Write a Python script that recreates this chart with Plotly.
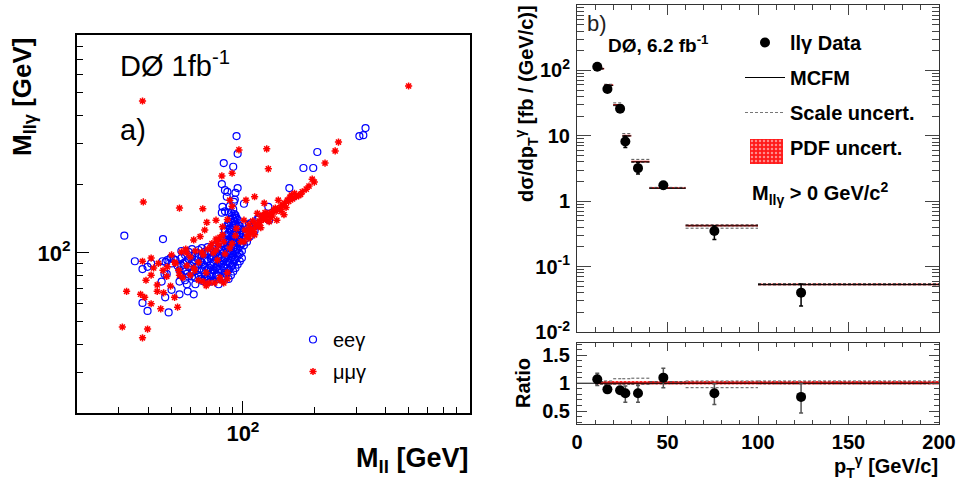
import plotly.graph_objects as go

FONT = "Liberation Sans"

# ---------------- Panel a: M_ll vs M_llgamma (GeV) ----------------
ee_points = [
    (31.6, 119), (94, 324), (95, 271), (83, 247), (91, 238), (81.5, 200), (84, 188),
    (86, 185), (93, 183), (95, 192), (85.5, 176), (91.6, 167), (92.4, 171), (101, 164),
    (82, 159), (84, 152), (81.5, 150), (128, 159), (157, 192), (163, 176), (180, 235),
    (198, 235), (206, 276), (310, 324), (322, 327), (329, 351), (46, 115), (35, 92),
    (37.7, 85), (39.6, 87), (41, 90), (45.8, 92), (47.2, 91.4), (49.5, 95), (45.4, 75),
    (47, 64), (48.6, 55), (37.7, 60.5), (39.6, 55.8), (50, 69), (54, 66), (58.5, 68),
    (62, 66), (79, 73), (58, 73), (46.7, 81), (47.7, 81), (54, 75), (57, 76), (63, 73),
    (67.6, 75.5), (70.4, 77), (73, 75),
    (52, 93), (53, 88), (56, 90), (58, 92), (60, 88), (62, 83), (64, 96), (66, 92),
    (68, 89), (70, 84), (72, 86), (72, 101), (74, 81), (74, 96), (76, 84), (76, 99),
    (78, 87), (78, 80), (80, 90), (80, 102), (82, 79), (82, 93), (84, 95), (84, 82),
    (86, 86), (86, 108), (88, 99), (88, 90), (88, 112), (90, 96), (90, 118), (90, 88),
    (92, 93), (92, 106), (92, 116), (94, 103), (94, 112), (94, 121), (96, 100), (96, 115),
    (98, 110), (100, 120), (86, 120), (88, 128), (89, 140), (87, 135), (90, 145), (85, 114),
    (84, 125), (86, 98), (54, 84), (58, 81), (61, 79), (64, 84), (66, 77), (69, 79),
    (71, 78), (73, 84), (102, 115), (103, 122), (105, 128), (108, 135), (110, 130),
    (115, 140), (107, 118), (112, 125), (106, 133), (117, 142), (129, 139), (101, 108),
    (104, 112), (91, 132), (89, 150), (93, 143), (86, 132), (92, 138), (51, 94), (50, 90),
    (48, 93), (87, 150), (91, 155), (88, 160), (92, 148), (94, 142), (96, 132), (97, 128),
    (55, 80), (55, 88), (55, 95), (55, 102), (57, 83), (57, 91), (57, 98),
    (59, 79), (59, 87), (59, 94), (59, 101), (61, 82), (61, 90), (61, 97), (61, 104),
    (63, 78), (63, 86), (63, 93), (63, 100), (65, 80), (65, 89), (65, 96), (65, 103),
    (67, 77), (67, 84), (67, 91), (67, 98), (67, 105), (69, 81), (69, 87), (69, 93), (69, 101),
    (71, 76), (71, 85), (71, 92), (71, 99), (71, 106), (73, 79), (73, 88), (73, 95), (73, 102),
    (75, 76), (75, 84), (75, 91), (75, 97), (75, 104), (77, 80), (77, 87), (77, 94), (77, 101),
    (77, 108), (79, 77), (79, 85), (79, 91), (79, 98), (79, 106), (81, 82), (81, 89), (81, 95),
    (81, 103), (81, 110), (83, 78), (83, 86), (83, 92), (83, 100), (83, 107), (83, 115),
    (85, 81), (85, 89), (85, 96), (85, 104), (85, 111), (85, 119), (87, 77), (87, 84),
    (87, 91), (87, 99), (87, 106), (87, 113), (87, 122), (87, 131), (89, 80), (89, 87),
    (89, 95), (89, 102), (89, 109), (89, 117), (89, 126), (89, 136), (91, 83), (91, 90),
    (91, 98), (91, 105), (91, 112), (91, 120), (91, 129), (91, 142), (93, 86), (93, 94),
    (93, 101), (93, 108), (93, 116), (93, 124), (93, 134), (93, 146), (95, 89), (95, 97),
    (95, 104), (95, 111), (95, 119), (95, 128), (95, 139), (97, 92), (97, 99), (97, 107),
    (97, 114), (97, 122), (97, 131), (99, 95), (99, 102), (99, 110), (99, 117), (99, 126),
]

mm_points = [
    (500, 536), (37.7, 461), (126, 285), (96.2, 282), (128, 233), (81.5, 217), (90, 223),
    (253, 305), (245, 279), (222, 247), (196, 210), (200, 204), (38, 167), (54, 157),
    (67.7, 156), (70.4, 136), (77, 139), (112, 176), (123, 165), (103, 170), (141, 170),
    (135, 154), (146, 162), (154, 170), (160, 179), (149, 147), (139, 139), (129, 137),
    (119, 129), (111, 124), (106, 116), (120, 144), (129, 149), (137, 157), (101, 139),
    (106, 133), (115, 149), (32.3, 68), (37, 66), (38.5, 64), (41, 60), (45, 57), (53, 58),
    (43.5, 68), (31, 47.5), (39.6, 46.5), (37.7, 42.6), (37.7, 92), (41, 95), (39, 76),
    (41, 80), (43.5, 72.5), (46.3, 67), (47.7, 79), (49.5, 71.7), (51.5, 64), (55.7, 78),
    (60, 80), (62.6, 84), (65, 91), (58, 88), (53.6, 84), (51.5, 91), (55, 101), (57.4, 104),
    (62, 114), (73, 106), (80, 117), (77, 115), (69, 126), (82, 130), (66, 118),
    (62, 86), (70, 82), (78, 93), (86, 82), (88, 105), (94, 128), (84, 99), (80, 78),
    (68, 98), (60, 96), (52, 90), (54, 80), (98, 112), (104, 118), (108, 122), (114, 130),
    (118, 136), (122, 140), (126, 145), (132, 150), (138, 152), (144, 158), (150, 165),
    (156, 168), (162, 172), (168, 176), (175, 180), (68, 75), (72, 74), (76, 74), (80, 76),
    (90, 110), (102, 126), (110, 138), (116, 132), (124, 150), (131, 143), (145, 152),
    (58, 100), (63, 102), (71, 104), (75, 100), (79, 108), (101, 112), (105, 120),
    (109, 127), (113, 134), (117, 138), (121, 146), (125, 140), (133, 145), (140, 156),
    (147, 160), (152, 158), (158, 175), (165, 182), (172, 178), (178, 185), (185, 190),
    (190, 196), (106, 126), (112, 120), (93, 119), (83, 112), (77, 103), (67, 101),
    (50, 98), (48, 87), (46, 84), (44, 90), (42, 86), (74, 110), (78, 112), (82, 120),
    (86, 140), (90, 160), (88, 170), (65, 76), (70, 72), (83, 74), (86, 77),
]

ee_mll = [p[0] for p in ee_points]
ee_mllg = [p[1] for p in ee_points]
mm_mll = [p[0] for p in mm_points]
mm_mllg = [p[1] for p in mm_points]

# ---------------- Panel b: dsigma/dpT ----------------
bin_lo = [10, 15, 20, 25, 30, 40, 60, 100]
bin_hi = [15, 20, 25, 30, 40, 60, 100, 200]
pt_x = [11.2, 16.8, 23.8, 26.7, 33.7, 47.7, 75.9, 123.8]
data_xsec = [114, 52, 26, 8.2, 3.2, 1.75, 0.35, 0.040]
data_err_up = [8, 4, 2.5, 1.6, 0.7, 0.2, 0.07, 0.014]
data_err_dn = [8, 4, 2.5, 1.6, 0.6, 0.2, 0.09, 0.015]
mcfm = [106, 59, 29.5, 10.0, 4.0, 1.58, 0.42, 0.053]
scale_up_r = [1.03, 1.04, 1.08, 1.08, 1.09, 1.03, 1.04, 1.04]
scale_dn_r = [0.98, 0.98, 0.98, 0.98, 0.98, 0.99, 0.92, 0.99]
pdf_up_r = [1.04, 1.04, 1.04, 1.04, 1.04, 1.04, 1.04, 1.04]
pdf_dn_r = [0.975, 0.975, 0.975, 0.975, 0.975, 0.975, 0.975, 0.975]
ratio = [1.07, 0.89, 0.875, 0.82, 0.82, 1.10, 0.82, 0.755]
ratio_err_up = [0.11, 0.04, 0.05, 0.13, 0.14, 0.17, 0.17, 0.24]
ratio_err_dn = [0.11, 0.04, 0.05, 0.16, 0.16, 0.18, 0.20, 0.29]


def segs(vals):
    xs, ys = [], []
    for lo, hi, v in zip(bin_lo, bin_hi, vals):
        xs += [lo, hi, None]
        ys += [v, v, None]
    return xs, ys


def boxes(lo_vals, hi_vals):
    xs, ys = [], []
    for lo, hi, a, b in zip(bin_lo, bin_hi, lo_vals, hi_vals):
        xs += [lo, hi, hi, lo, lo, None]
        ys += [a, a, b, b, a, None]
    return xs, ys


fig = go.Figure()

fig.add_trace(go.Scatter(
    x=ee_mll, y=ee_mllg, mode="markers", name="eeγ", xaxis="x", yaxis="y",
    marker=dict(symbol="circle-open", size=7, color="#0000ff", line=dict(width=1.2, color="#0000ff")),
    legend="legend", legendgroup="ee"))
fig.add_trace(go.Scatter(
    x=mm_mll, y=mm_mllg, mode="markers", name="μμγ", xaxis="x", yaxis="y",
    marker=dict(symbol="asterisk-open", size=6, color="#ff0000", line=dict(width=1.5, color="#ff0000")),
    legend="legend", legendgroup="mm"))

pdf_lo_abs = [m * r for m, r in zip(mcfm, pdf_dn_r)]
pdf_hi_abs = [m * r for m, r in zip(mcfm, pdf_up_r)]
sc_up_abs = [m * r for m, r in zip(mcfm, scale_up_r)]
sc_dn_abs = [m * r for m, r in zip(mcfm, scale_dn_r)]

pattern = dict(shape=".", fgcolor="white", bgcolor="#ff1a1a", size=4, solidity=0.3)
DASH = "3px,2px"

bx, by = boxes(pdf_lo_abs, pdf_hi_abs)
fig.add_trace(go.Scatter(x=bx, y=by, xaxis="x2", yaxis="y2", mode="none", fill="toself",
                         fillcolor="#ff1a1a", fillpattern=pattern, showlegend=False, hoverinfo="skip"))
for vals in (sc_up_abs, sc_dn_abs):
    sx, sy = segs(vals)
    fig.add_trace(go.Scatter(x=sx, y=sy, xaxis="x2", yaxis="y2", mode="lines",
                             line=dict(color="#555555", width=1, dash=DASH), showlegend=False))
mx, my = segs(mcfm)
fig.add_trace(go.Scatter(x=mx, y=my, xaxis="x2", yaxis="y2", mode="lines",
                         line=dict(color="black", width=1), showlegend=False))
fig.add_trace(go.Scatter(
    x=pt_x, y=data_xsec, xaxis="x2", yaxis="y2", mode="markers", name="llγ Data",
    marker=dict(symbol="circle", size=10, color="black"),
    error_y=dict(type="data", array=data_err_up, arrayminus=data_err_dn, color="black",
                 thickness=1.5, width=2),
    legend="legend2", legendgroup="g1"))

fig.add_trace(go.Scatter(x=[None], y=[None], xaxis="x2", yaxis="y2", mode="lines", name="MCFM",
                         line=dict(color="black", width=1), legend="legend2", legendgroup="g2"))
fig.add_trace(go.Scatter(x=[None], y=[None], xaxis="x2", yaxis="y2", mode="lines", name="Scale uncert.",
                         line=dict(color="#777777", width=1, dash=DASH), legend="legend2", legendgroup="g3"))
fig.add_trace(go.Scatter(x=[None, None], y=[None, None], xaxis="x2", yaxis="y2", mode="none", fill="toself",
                         fillcolor="rgba(0,0,0,0)", name="PDF uncert.",
                         legend="legend2", legendgroup="g4"))
# enlarged swatch for the PDF legend entry
fig.add_trace(go.Scatter(x=[0, 1, 1, 0, 0], y=[0, 0, 1, 1, 0], xaxis="x4", yaxis="y4", mode="none",
                         fill="toself", fillcolor="#ff1a1a", fillpattern=pattern, showlegend=False,
                         hoverinfo="skip"))

rbx, rby = boxes(pdf_dn_r, pdf_up_r)
fig.add_trace(go.Scatter(x=rbx, y=rby, xaxis="x3", yaxis="y3", mode="none", fill="toself",
                         fillcolor="#ff1a1a", fillpattern=pattern, showlegend=False, hoverinfo="skip"))
for vals in (scale_up_r, scale_dn_r):
    sx, sy = segs(vals)
    fig.add_trace(go.Scatter(x=sx, y=sy, xaxis="x3", yaxis="y3", mode="lines",
                             line=dict(color="#555555", width=1, dash=DASH), showlegend=False))
fig.add_trace(go.Scatter(x=[0, 200], y=[1, 1], xaxis="x3", yaxis="y3", mode="lines",
                         line=dict(color="black", width=1), showlegend=False))
fig.add_trace(go.Scatter(
    x=pt_x, y=ratio, xaxis="x3", yaxis="y3", mode="markers", showlegend=False,
    marker=dict(symbol="circle", size=10, color="black"),
    error_y=dict(type="data", array=ratio_err_up, arrayminus=ratio_err_dn, color="#555555",
                 thickness=1.5, width=2)))

W, H = 959, 482


def px(x):
    return x / W


def py(y):
    return 1 - y / H


log_minor_a = [30, 40, 50, 60, 70, 80, 90, 200, 300, 400, 500, 600, 700, 800, 900]
log_minor_b = []
for dec in [0.01, 0.1, 1, 10, 100]:
    log_minor_b += [dec * k for k in range(2, 10)]

tickfont_a = dict(family=FONT, size=22, color="black", weight="bold")
tickfont_b = dict(family=FONT, size=20, color="black", weight="bold")

fig.update_layout(
    width=W, height=H, autosize=False,
    margin=dict(l=0, r=0, t=0, b=0, pad=0, autoexpand=False),
    paper_bgcolor="white", plot_bgcolor="white",
    font=dict(family=FONT, color="black"),
    xaxis=dict(domain=[px(77), px(470)], anchor="y", type="log", range=[1.3, 2.958],
               tickvals=[100], ticktext=["10<sup>2</sup>"], ticks="inside", ticklen=12, tickwidth=1,
               tickcolor="black", tickfont=tickfont_a, showgrid=False, zeroline=False,
               showline=True, linewidth=2, linecolor="black", mirror=True, automargin=False,
               minor=dict(tickvals=log_minor_a, ticks="inside", ticklen=6, tickcolor="black", showgrid=False)),
    yaxis=dict(domain=[py(413), py(35)], anchor="x", type="log", range=[1.301, 2.952],
               tickvals=[100], ticktext=["10<sup>2</sup>"], ticks="inside", ticklen=12, tickwidth=1,
               tickcolor="black", tickfont=tickfont_a, showgrid=False, zeroline=False,
               showline=True, linewidth=2, linecolor="black", mirror=True, automargin=False,
               minor=dict(tickvals=log_minor_a, ticks="inside", ticklen=6, tickcolor="black", showgrid=False)),
    xaxis2=dict(domain=[px(577), px(939)], anchor="y2", range=[0, 200], showticklabels=False,
                dtick=50, ticks="inside", ticklen=10, tickcolor="#444", showgrid=False, zeroline=False,
                showline=True, linewidth=1, linecolor="#333", mirror="ticks", automargin=False,
                minor=dict(dtick=10, ticks="inside", ticklen=5, tickcolor="#444")),
    yaxis2=dict(domain=[py(332), py(5)], anchor="x2", type="log", range=[-2, 3],
                tickvals=[0.01, 0.1, 1, 10, 100],
                ticktext=["10<sup>-2</sup>", "10<sup>-1</sup>", "1", "10", "10<sup>2</sup>"],
                ticks="inside", ticklen=14, tickcolor="#444", tickfont=tickfont_b, showgrid=False,
                zeroline=False, showline=True, linewidth=1, linecolor="#333", mirror="ticks",
                ticklabelstandoff=2, automargin=False,
                minor=dict(tickvals=log_minor_b, ticks="inside", ticklen=7, tickcolor="#444")),
    xaxis3=dict(domain=[px(577), px(939)], anchor="y3", range=[0, 200], dtick=50,
                ticks="inside", ticklen=8, tickcolor="#444", tickfont=tickfont_b, showgrid=False,
                zeroline=False, showline=True, linewidth=1, linecolor="#333", mirror="ticks",
                automargin=False,
                minor=dict(dtick=10, ticks="inside", ticklen=4, tickcolor="#444")),
    yaxis3=dict(domain=[py(424), py(343)], anchor="x3", range=[0.27, 1.72],
                tickvals=[0.5, 1, 1.5], ticktext=["0.5", "1", "1.5"],
                ticks="inside", ticklen=10, tickcolor="#444", tickfont=tickfont_b, showgrid=False,
                zeroline=False, showline=True, linewidth=1, linecolor="#333", mirror="ticks",
                ticklabelstandoff=2, automargin=False,
                minor=dict(dtick=0.1, ticks="inside", ticklen=5, tickcolor="#444")),
    xaxis4=dict(domain=[px(750), px(783)], anchor="y4", range=[0, 1], visible=False, fixedrange=True),
    yaxis4=dict(domain=[py(164), py(139)], anchor="x4", range=[0, 1], visible=False, fixedrange=True),
    legend=dict(x=px(293), y=py(320), xanchor="left", yanchor="top", bgcolor="rgba(0,0,0,0)",
                font=dict(family=FONT, size=20, color="black"), traceorder="grouped",
                tracegroupgap=3, itemwidth=30),
    legend2=dict(x=px(740), y=py(23), xanchor="left", yanchor="top", bgcolor="rgba(0,0,0,0)",
                 font=dict(family=FONT, size=20, color="black", weight="bold"), traceorder="grouped",
                 tracegroupgap=6, itemwidth=40),
)

ann = []
ann.append(dict(x=px(24), y=py(97), xref="paper", yref="paper", text="M<sub>llγ</sub> [GeV]",
                textangle=-90, showarrow=False, xanchor="center", yanchor="middle",
                font=dict(family=FONT, size=26, color="black", weight="bold")))
ann.append(dict(x=px(471), y=py(460), xref="paper", yref="paper", text="M<sub>ll</sub> [GeV]",
                showarrow=False, xanchor="right", yanchor="middle",
                font=dict(family=FONT, size=27, color="black", weight="bold")))
ann.append(dict(x=px(118), y=py(64), xref="paper", yref="paper", text="DØ 1fb<sup>-1</sup>",
                showarrow=False, xanchor="left", yanchor="middle",
                font=dict(family=FONT, size=29, color="black")))
ann.append(dict(x=px(118), y=py(130), xref="paper", yref="paper", text="a)",
                showarrow=False, xanchor="left", yanchor="middle",
                font=dict(family=FONT, size=29, color="black")))
ann.append(dict(x=px(526), y=py(104), xref="paper", yref="paper",
                text="dσ/dp<sub>T</sub><sup>γ</sup> [fb / (GeV/c)]", textangle=-90,
                showarrow=False, xanchor="center", yanchor="middle",
                font=dict(family=FONT, size=20, color="black", weight="bold")))
ann.append(dict(x=px(523), y=py(383), xref="paper", yref="paper", text="Ratio", textangle=-90,
                showarrow=False, xanchor="center", yanchor="middle",
                font=dict(family=FONT, size=20, color="black", weight="bold")))
ann.append(dict(x=px(940), y=py(466), xref="paper", yref="paper",
                text="p<sub>T</sub><sup>γ</sup> [GeV/c]",
                showarrow=False, xanchor="right", yanchor="middle",
                font=dict(family=FONT, size=20, color="black", weight="bold")))
ann.append(dict(x=px(585), y=py(23), xref="paper", yref="paper", text="b)",
                showarrow=False, xanchor="left", yanchor="middle",
                font=dict(family=FONT, size=22, color="#222")))
ann.append(dict(x=px(606), y=py(44), xref="paper", yref="paper", text="DØ, 6.2 fb<sup>-1</sup>",
                showarrow=False, xanchor="left", yanchor="middle",
                font=dict(family=FONT, size=19, color="black", weight="bold")))
ann.append(dict(x=px(750), y=py(193), xref="paper", yref="paper",
                text="M<sub>llγ</sub> > 0 GeV/c<sup>2</sup>",
                showarrow=False, xanchor="left", yanchor="middle",
                font=dict(family=FONT, size=20, color="black", weight="bold")))
fig.update_layout(annotations=ann)

fig.write_html(
    "out.html",
    config={"responsive": False, "displayModeBar": False},
    post_script="document.body.style.margin='0px';document.body.style.overflow='hidden';",
)
